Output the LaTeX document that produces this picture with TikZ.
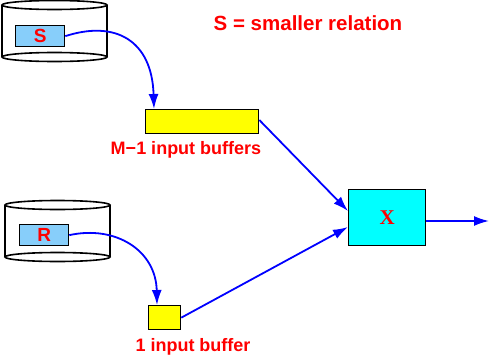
\documentclass[tikz,border=0pt]{standalone}
\usepackage{fontspec}
\setmainfont{Liberation Sans}
\newfontfamily\serifx{Liberation Serif}
\usetikzlibrary{arrows.meta}
\definecolor{relblue}{RGB}{135,206,250}
\definecolor{bufyellow}{RGB}{255,255,0}
\definecolor{joincyan}{RGB}{0,255,255}
\tikzset{
  lbl/.style={text=red, font=\bfseries\fontsize{18}{20}\selectfont, inner sep=0pt},
  relbox/.style={draw=black, line width=1.3pt, fill=relblue, minimum width=49pt, minimum height=21pt, inner sep=0pt, anchor=north west, text=red, font=\bfseries\fontsize{19}{21}\selectfont},
  bufbox/.style={draw=black, line width=1.3pt, fill=bufyellow, inner sep=0pt, anchor=north west},
  cyl/.style={draw=black, line width=1.6pt},
  flow/.style={draw=blue, line width=1.8pt, -{Latex[length=15pt,width=10pt]}}
}
\begin{document}
\begin{tikzpicture}[x=1pt,y=-1pt]
\useasboundingbox (0,0) rectangle (490,356);
% cylinder S
\draw[cyl] (2,5) -- (2,57) (107,5) -- (107,57);
\draw[cyl] (54.5,5) ellipse [x radius=52.5, y radius=4.5];
\draw[cyl] (54.5,57) ellipse [x radius=52.5, y radius=4.5];
% cylinder R
\draw[cyl] (5,205) -- (5,257) (110,205) -- (110,257);
\draw[cyl] (57.5,205) ellipse [x radius=52.5, y radius=4.5];
\draw[cyl] (57.5,257) ellipse [x radius=52.5, y radius=4.5];
% relations
\node[relbox] (S) at (15,25) {S};
\node[relbox] (R) at (19,224) {R};
% buffers
\node[bufbox, minimum width=113pt, minimum height=24pt] (M) at (145,109) {};
\node[bufbox, minimum width=32pt, minimum height=24pt] (one) at (148,305) {};
\node[lbl, anchor=north] (Mlbl) at (186,141) {M−1 input buffers};
\node[lbl, anchor=north] (onelbl) at (193,338) {1 input buffer};
% join box
\node[draw=black, line width=1.3pt, fill=joincyan, minimum width=77pt, minimum height=56pt, inner sep=0pt, anchor=north west, text=red, font=\serifx\bfseries\fontsize{21}{23}\selectfont] (X) at (348,189) {X};
\coordinate (out) at (489,221);
% title
\node[lbl, font=\bfseries\fontsize{20.5}{23}\selectfont, anchor=north] (title) at (308,15) {S = smaller relation};
% connectors
\draw[flow] (S.east) .. controls (115,20) and (152,40) .. (M.north west -| 154,0);
\draw[flow] (R.east) .. controls (115,225) and (156,250) .. (one.north west -| 157,0);
\draw[flow] (M.north east |- 0,120) -- (X.west |- 0,211);
\draw[flow] (one.east) -- (X.west |- 0,227);
\draw[flow] (X.east |- out) -- (out);
\end{tikzpicture}
\end{document}
